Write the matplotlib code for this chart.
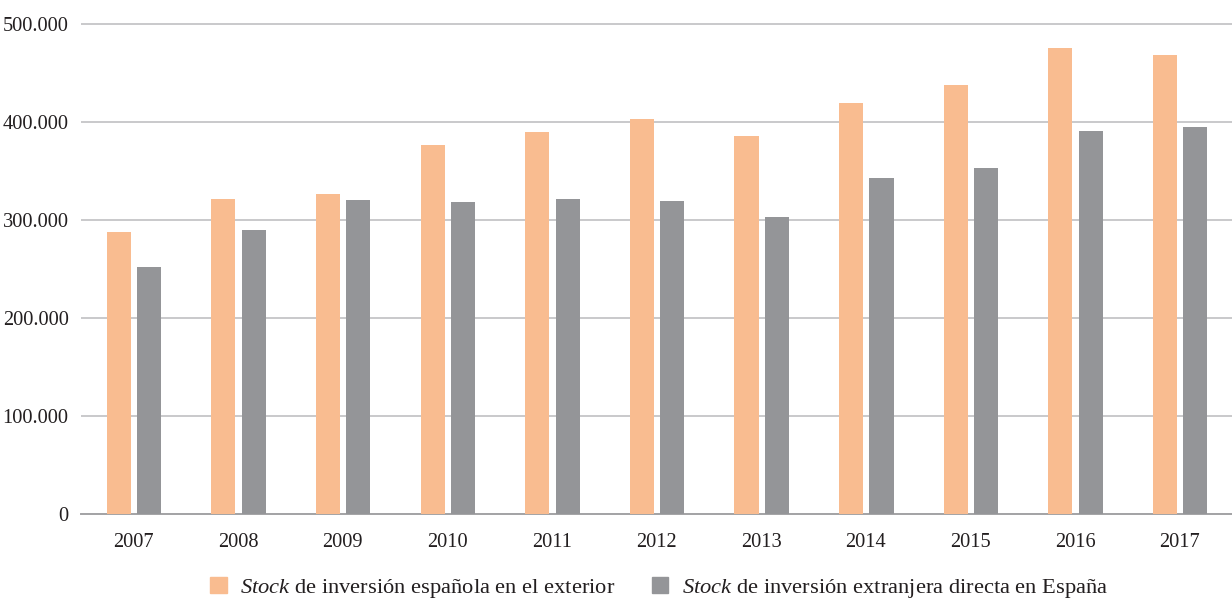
import matplotlib
matplotlib.use("Agg")
import matplotlib.pyplot as plt
from matplotlib.patches import Patch
import numpy as np

years = ["2007", "2008", "2009", "2010", "2011", "2012", "2013", "2014", "2015", "2016", "2017"]
stock_exterior = [287400, 321400, 326500, 376500, 389800, 403000, 385700, 419000, 437400, 475500, 468400]
stock_espana = [252000, 289800, 320400, 318400, 321400, 319000, 303400, 342900, 352700, 391100, 395200]
yticks = [0, 100000, 200000, 300000, 400000, 500000]
ytick_labels = ["0", "100.000", "200.000", "300.000", "400.000", "500.000"]

orange = "#F9BC90"
grey = "#949598"
grid_col = "#C9C9CB"

plt.rcParams["font.family"] = ["Liberation Serif", "DejaVu Serif"]
plt.rcParams["mathtext.fontset"] = "custom"
plt.rcParams["mathtext.it"] = "Liberation Serif:italic"
plt.rcParams["mathtext.rm"] = "Liberation Serif"

fig = plt.figure(figsize=(12.32, 5.99), dpi=100)
ax = fig.add_axes([81 / 1232, 1 - 514 / 599, 1 - 81 / 1232, (514 - 22) / 599])

x = np.arange(len(years))
w = 0.23
ax.bar(x - 0.14, stock_exterior, width=w, color=orange, zorder=3)
ax.bar(x + 0.15, stock_espana, width=w, color=grey, zorder=3)

ax.set_xlim(-0.5, len(years) - 0.5)
ax.set_ylim(0, 502000)
ax.set_yticks(yticks)
ax.set_yticklabels(ytick_labels)
ax.set_xticks(x)
ax.set_xticklabels(years)
ax.tick_params(axis="both", length=0, labelsize=14.7, colors="#231F20")
ax.tick_params(axis="x", pad=14)
ax.tick_params(axis="y", pad=9)
ax.yaxis.grid(True, color=grid_col, linewidth=1.4, zorder=0)
ax.set_axisbelow(True)
for s in ["top", "right", "left"]:
    ax.spines[s].set_visible(False)
ax.spines["bottom"].set_color("#A3A3A5")
ax.spines["bottom"].set_linewidth(1.4)

handles = [Patch(color=orange), Patch(color=grey)]
labels = [r"$\it{Stock}$ de inversión española en el exterior",
          r"$\it{Stock}$ de inversión extranjera directa en España"]
fig.legend(handles, labels, loc="center", bbox_to_anchor=(0.535, 0.018), ncol=2,
           frameon=False, fontsize=16.2, handlelength=0.75, handleheight=0.75,
           handletextpad=0.6, columnspacing=1.6, labelcolor="#231F20")

fig.savefig("out.png", dpi=100)
